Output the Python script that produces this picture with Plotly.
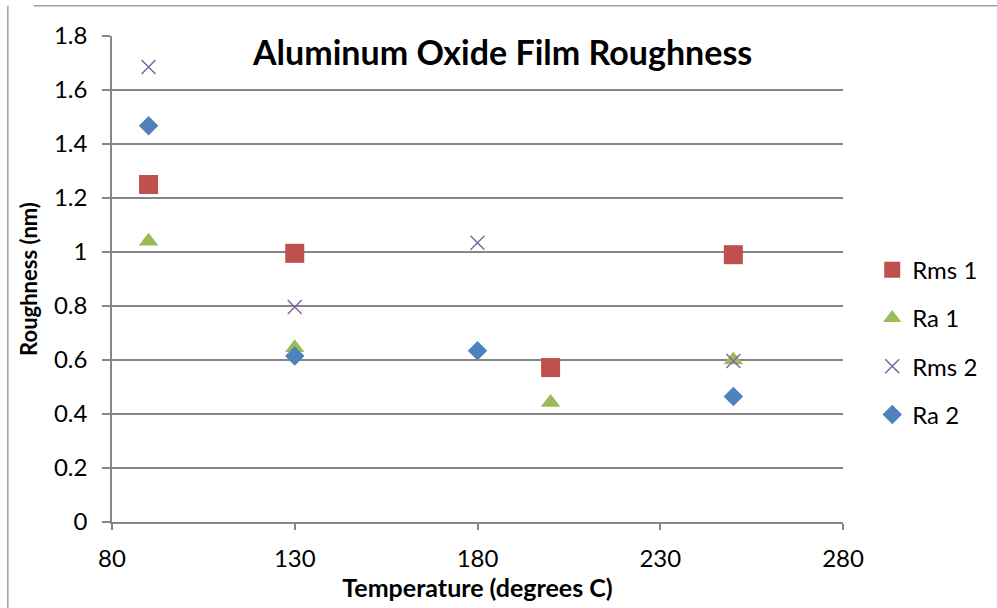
import plotly.graph_objects as go

temps_rms1 = [90, 130, 200, 250]
rms1 = [1.25, 0.995, 0.572, 0.99]
temps_ra1 = [90, 130, 200, 250]
ra1 = [1.04, 0.645, 0.443, 0.60]
temps_rms2 = [90, 130, 180, 250]
rms2 = [1.685, 0.796, 1.034, 0.596]
temps_ra2 = [90, 130, 180, 250]
ra2 = [1.468, 0.615, 0.634, 0.465]

FONT = "Lato"
fig = go.Figure()
fig.add_trace(go.Scatter(x=temps_rms1, y=rms1, mode="markers", name="Rms 1", legendgroup="a",
                         marker=dict(symbol="square", size=19, color="#c0504d")))
fig.add_trace(go.Scatter(x=temps_ra1, y=ra1, mode="markers", name="Ra 1", legendgroup="b",
                         marker=dict(symbol="triangle-up", size=17, color="#9bbb59")))
fig.add_trace(go.Scatter(x=temps_rms2, y=rms2, mode="markers", name="Rms 2", legendgroup="c",
                         marker=dict(symbol="x-thin-open", size=14, color="#8064a2",
                                     line=dict(width=1.5, color="#8064a2"))))
fig.add_trace(go.Scatter(x=temps_ra2, y=ra2, mode="markers", name="Ra 2", legendgroup="d",
                         marker=dict(symbol="diamond", size=15, color="#4f81bd")))

fig.update_layout(
    width=997, height=608,
    margin=dict(l=112, r=154, t=36, b=86),
    paper_bgcolor="white", plot_bgcolor="white",
    font=dict(family=FONT, size=24, color="black"),
    showlegend=True,
    legend=dict(x=1.04, xanchor="left", y=0.37, yanchor="middle", xref="paper",
                tracegroupgap=14, font=dict(size=24), itemsizing="trace",
                traceorder="grouped", bgcolor="rgba(0,0,0,0)"),
    xaxis=dict(range=[80, 280], dtick=50, tick0=80, showgrid=False, zeroline=False,
               showline=True, linecolor="#868686", linewidth=1.5,
               ticks="outside", ticklen=6, tickcolor="#868686", tickwidth=1.5,
               ticklabelstandoff=8, tickfont=dict(size=24),
               title=dict(text="<b>Temperature (degrees C)</b>", standoff=6,
                          font=dict(size=25))),
    yaxis=dict(range=[0, 1.8], dtick=0.2, showgrid=True, gridcolor="#868686", gridwidth=1.5,
               zeroline=False, showline=True, linecolor="#868686", linewidth=1.5,
               ticks="outside", ticklen=8, tickcolor="#868686", tickwidth=1.5,
               ticklabelstandoff=10, tickfont=dict(size=24),
               title=dict(text="<b>Roughness (nm)</b>", standoff=10, font=dict(size=22))),
)

fig.add_annotation(text="<b>Aluminum Oxide Film Roughness</b>", xref="paper", yref="paper",
                   x=0.5335, y=0.968, xanchor="center", yanchor="middle", showarrow=False,
                   font=dict(size=34, family=FONT))

fig.add_shape(type="line", xref="paper", yref="paper", x0=-0.107, x1=1.3, y0=1.062, y1=1.062,
              line=dict(color="#a0a0a0", width=1.5))
fig.add_shape(type="line", xref="paper", yref="paper", x0=-0.1425, x1=-0.1425, y0=-0.2, y1=1.062,
              line=dict(color="#a0a0a0", width=1.5))

fig.write_html("out.html")
